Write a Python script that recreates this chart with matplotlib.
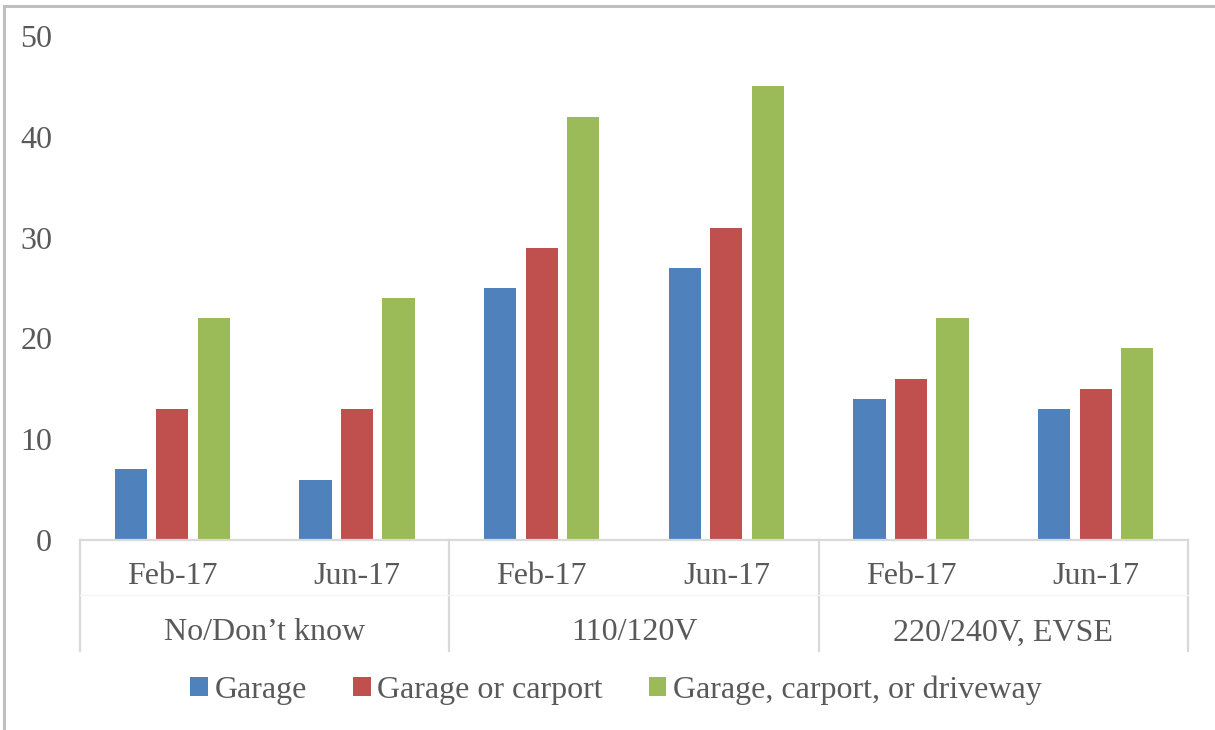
import matplotlib.pyplot as plt
import numpy as np
from matplotlib.lines import Line2D
from matplotlib.patches import Patch

# dados
grupos = ["No/Don\u2019t know", "110/120V", "220/240V, EVSE"]
meses = ["Feb-17", "Jun-17"]
series = ["Garage", "Garage or carport", "Garage, carport, or driveway"]
garage = [7, 6, 25, 27, 14, 13]
garage_carport = [13, 13, 29, 31, 16, 15]
garage_carport_driveway = [22, 24, 42, 45, 22, 19]

cores = ["#4F81BD", "#C0504D", "#9BBB59"]
cinza_texto = "#595959"
cinza_linha = "#D9D9D9"
tam = 23

plt.rcParams['font.family'] = ['Liberation Serif', 'DejaVu Serif']

fig = plt.figure(figsize=(12.15, 7.3), dpi=100)
ax = fig.add_axes([80 / 1215, 190 / 730, 1108 / 1215, 504 / 730])

n = len(grupos) * len(meses)
x = np.arange(n)
largura = 0.175
desloc = [-0.225, 0, 0.225]
for valores, cor, d, nome in zip([garage, garage_carport, garage_carport_driveway], cores, desloc, series):
    ax.bar(x + d, valores, width=largura, color=cor, label=nome, zorder=2)

ax.set_xlim(-0.5, n - 0.5)
ax.set_ylim(0, 50)
ax.set_yticks(range(0, 51, 10))
ax.tick_params(axis='y', length=0, pad=20, labelsize=tam, labelcolor=cinza_texto)
ax.set_xticks([])

for lado in ['top', 'right', 'left']:
    ax.spines[lado].set_visible(False)
ax.spines['bottom'].set_color(cinza_linha)
ax.spines['bottom'].set_linewidth(1.6)

# eixo de categorias em dois níveis
trans = ax.get_xaxis_transform()
altura_px = 504
for i in range(n):
    ax.text(x[i], -37 / altura_px, meses[i % len(meses)], transform=trans,
            ha='center', va='center', fontsize=tam, color=cinza_texto)
for g, nome in enumerate(grupos):
    centro = g * len(meses) + (len(meses) - 1) / 2
    ax.text(centro, -93 / altura_px, nome, transform=trans,
            ha='center', va='center', fontsize=tam, color=cinza_texto)
for g in range(len(grupos) + 1):
    pos = g * len(meses) - 0.5
    ax.plot([pos, pos], [0, -111 / altura_px], transform=trans, color=cinza_linha,
            linewidth=1.6, clip_on=False)
ax.plot([-0.5, n - 0.5], [-55 / altura_px, -55 / altura_px], transform=trans,
        color="#F5F5F5", linewidth=1, clip_on=False)

# legenda
alcas = [Patch(facecolor=c) for c in cores]
leg = fig.legend(alcas, series, loc='center', bbox_to_anchor=(616 / 1215, 40 / 730), ncol=3,
                 frameon=False, fontsize=tam, handlelength=0.55, handleheight=0.55,
                 handletextpad=0.2, columnspacing=1.45)
for t in leg.get_texts():
    t.set_color(cinza_texto)

# moldura do gráfico (só topo e esquerda visíveis)
fig.add_artist(Line2D([4 / 1215, 1], [1 - 5.5 / 730, 1 - 5.5 / 730], color="#BFBFBF", linewidth=2.2))
fig.add_artist(Line2D([4 / 1215, 4 / 1215], [0, 1 - 5.5 / 730], color="#BFBFBF", linewidth=2.2))

fig.savefig("out.png", dpi=100)
